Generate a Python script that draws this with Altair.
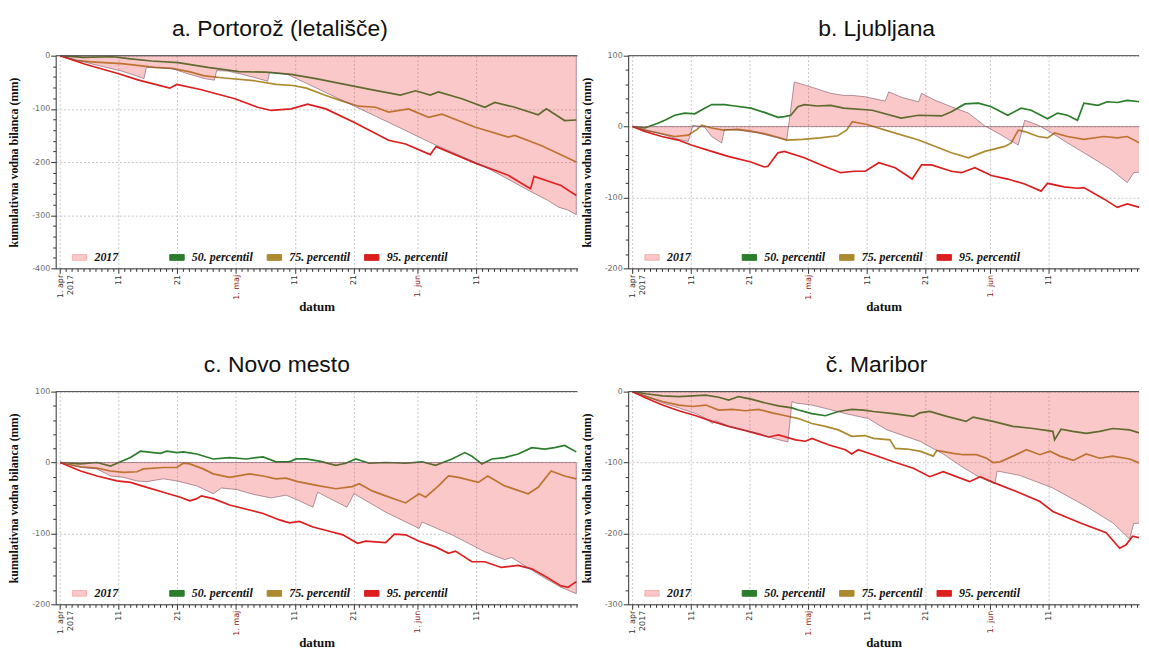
import altair as alt
import pandas as pd

SERIES = ["2017", "50. percentil", "75. percentil", "95. percentil"]
COLORS = ["rgba(238,58,58,0.28)", "#2b7d2b", "#ad8a30", "#dc1e1e"]

# x = day index counted from 1 April 2017 (0 = 1. apr)
MAJOR_DAYS = [0, 10, 20, 30, 40, 50, 61, 71]
TICK_LABELS = ["1. apr|2017", "11", "21", "1. maj", "11", "21", "1. jun", "11"]

# ---------------- a. Portorož (letališče)
A_2017_DAY = [0, 2.5, 4.9, 7.5, 10.5, 12.5, 14.3, 14.7, 17, 19, 21.5, 24.6, 26.3, 26.7, 28.6, 31, 33.1, 35.4, 35.7, 38.7, 42, 46, 50, 54, 58, 61, 64, 68, 71.9, 76, 79.8, 83.1, 85, 86.5, 88]
A_2017_VAL = [0, -7, -14, -21, -29, -36, -43, -22, -23, -24, -33, -43, -46, -28, -29, -35, -41, -48, -31, -35, -52, -73, -94, -115, -136, -152, -168, -187, -206, -230, -253, -272, -285, -290, -299]
A_P50_DAY = [0, 4, 9, 12, 15.6, 20.1, 25.2, 30.5, 35, 39.4, 43.6, 48.1, 52.6, 58, 60.6, 63.1, 64.5, 68.5, 72.4, 74.1, 77.5, 81.5, 82.9, 86, 88]
A_P50_VAL = [0, -3, -2, -6, -10, -13, -22, -30, -31, -35, -43, -53, -63, -74, -66, -74, -68, -81, -97, -88, -97, -111, -100, -122, -121]
A_P75_DAY = [0, 2.6, 6, 10.5, 16.2, 19, 22, 24.6, 28, 33, 36.8, 39.7, 42, 45.3, 48, 50.9, 53.8, 56, 59.4, 62.8, 65.1, 70.7, 76.4, 77.5, 82, 88]
A_P75_VAL = [0, -9, -12, -15, -22, -24, -30, -38, -42, -47, -54, -56, -61, -75, -85, -95, -97, -106, -100, -116, -110, -134, -153, -150, -169, -200]
A_P95_DAY = [0, 4.3, 10, 13.4, 18.7, 19.9, 24.1, 29.8, 33.7, 36, 39.4, 42.2, 45.3, 50.1, 56, 58.9, 63.1, 64.1, 71, 76.4, 80.2, 80.8, 85.4, 88]
A_P95_VAL = [0, -16, -34, -46, -61, -54, -64, -81, -97, -103, -100, -91, -100, -125, -159, -166, -186, -171, -203, -225, -250, -227, -244, -263]

# ---------------- b. Ljubljana
B_2017_DAY = [0, 2.1, 4.4, 7.8, 9.5, 10.3, 12.3, 13.5, 15.2, 15.7, 18, 21.4, 24.8, 26.3, 27.6, 30.4, 33.8, 36, 37.5, 39.7, 43.1, 43.7, 46, 48.8, 49.3, 51.6, 54.4, 57.3, 60.1, 62.9, 65.8, 66.9, 69.2, 71.5, 74, 77, 79, 81.5, 84.4, 85.5, 88]
B_2017_VAL = [0, -5, -9, -18, -21, 2, -1, -14, -23, -4, -5, -9, -16, -19, 63, 56, 47, 44, 44, 42, 36, 49, 41, 35, 47, 37, 28, 19, 1, -12, -26, 9, 2, -9, -22, -37, -47, -60, -79, -65, -63]
B_P50_DAY = [0, 2.1, 4.4, 5.5, 7.2, 8.9, 10.6, 12.3, 13.5, 15.7, 17.4, 20.2, 22.5, 24.8, 25.9, 27, 28.2, 29.3, 31.5, 33.8, 36, 40.9, 45.8, 48.8, 52.7, 54.4, 56.7, 59, 61.2, 64, 66.3, 68, 70.8, 72.5, 74.2, 75.9, 77, 79.4, 81, 82.7, 84.4, 86.5, 88]
B_P50_VAL = [0, -2, 5, 9, 16, 19, 18, 26, 31, 31, 29, 26, 20, 13, 14, 16, 28, 31, 29, 30, 26, 23, 12, 16, 15, 21, 32, 33, 28, 16, 26, 23, 11, 19, 16, 9, 33, 30, 35, 34, 37, 35, 35]
B_P75_DAY = [0, 2.1, 4.4, 7.2, 9.5, 11, 11.8, 13.5, 15.5, 18, 20, 22.5, 24.8, 26.3, 29, 32, 35, 36.5, 37.5, 40, 43.1, 48.8, 54.4, 57.3, 60.1, 63.5, 64.6, 65.8, 66.9, 69.2, 70.8, 72, 74.2, 77, 80.4, 82.7, 84.4, 86.5, 88]
B_P75_VAL = [0, -5, -9, -14, -12, -4, 2, -2, -5, -4, -6, -10, -15, -19, -18, -16, -13, -5, 7, 3, -5, -19, -37, -44, -35, -28, -23, -5, -7, -14, -16, -9, -14, -18, -14, -16, -14, -23, -24]
B_P95_DAY = [0, 2.1, 5, 7.8, 10, 13.5, 16.3, 20.2, 22.5, 23.1, 24.8, 25.9, 29.3, 32.7, 35.5, 37.8, 39.7, 42, 44.8, 47.7, 49.3, 51, 54.4, 56.1, 58.4, 61.2, 64, 66.9, 69.7, 70.8, 73.6, 75.9, 77, 80.4, 82.7, 84.4, 86.5, 88]
B_P95_VAL = [0, -7, -14, -19, -26, -35, -42, -50, -57, -56, -37, -35, -44, -56, -65, -63, -63, -51, -58, -74, -54, -54, -63, -65, -58, -69, -74, -81, -91, -80, -85, -87, -86, -102, -114, -109, -114, -116]

# ---------------- c. Novo mesto
C_2017_DAY = [0, 3.5, 6.3, 8.6, 10.8, 13.1, 14.8, 17.6, 19.9, 23.3, 26.1, 27.5, 30, 33, 36, 38.5, 40.5, 43.1, 43.9, 48.9, 50.1, 55.5, 61.2, 61.7, 66.8, 72.4, 75.8, 77, 79.3, 82.6, 85.4, 88]
C_2017_VAL = [0, -7, -9, -19, -21, -26, -27, -23, -26, -33, -44, -36, -38, -45, -50, -46, -53, -63, -42, -63, -44, -70, -93, -84, -102, -126, -137, -134, -146, -163, -176, -185]
C_P50_DAY = [0, 3.5, 6.3, 8.6, 10.3, 12, 13.7, 15.9, 17.1, 18.2, 19.9, 21, 23.3, 26.1, 28.9, 31.8, 33.4, 34.6, 36.8, 39.1, 40.2, 41.9, 44.2, 47, 48.7, 50.4, 52.7, 55.5, 58.9, 61.7, 64, 66.8, 69, 70.2, 71.9, 73.6, 75.8, 78.1, 80.4, 82.6, 84.3, 86, 88]
C_P50_VAL = [0, -2, 0, -5, 1, 7, 16, 14, 13, 16, 14, 15, 12, 5, 7, 5, 7, 8, 1, 1, 5, 5, 2, -4, -1, 5, -1, 0, -1, 1, -4, 5, 14, 9, -2, 5, 7, 12, 21, 19, 21, 24, 15]
C_P75_DAY = [0, 3.5, 6.3, 8.6, 10.8, 13.1, 14.2, 17.6, 19.9, 21, 22.1, 24.4, 26.1, 28.9, 32.3, 34.6, 36.8, 38.5, 40.5, 44.2, 47, 49.8, 51, 53.2, 55.5, 58.9, 61.2, 62.3, 64.5, 66.2, 67.9, 71.3, 72.9, 75.8, 79.8, 81.5, 83.7, 86, 88]
C_P75_VAL = [0, -6, -8, -12, -14, -13, -9, -7, -7, -1, -2, -9, -16, -21, -16, -19, -23, -22, -27, -33, -37, -34, -30, -40, -47, -57, -44, -49, -33, -19, -21, -28, -19, -33, -44, -35, -12, -19, -23]
C_P95_DAY = [0, 3.5, 6.3, 9.7, 12, 14.8, 17.6, 20.5, 22.1, 23.3, 24.1, 26.1, 28.9, 32.3, 34.6, 37.4, 39.1, 40.8, 43.1, 45.9, 48.2, 50.7, 52.1, 55.5, 57, 58.9, 61.2, 64, 66.2, 67.4, 70.2, 72.4, 75.2, 78.1, 80.4, 82.6, 85.4, 86.6, 88]
C_P95_VAL = [0, -12, -19, -26, -28, -35, -42, -49, -54, -51, -47, -51, -60, -67, -72, -81, -85, -83, -91, -97, -102, -114, -111, -113, -101, -102, -111, -119, -128, -125, -140, -140, -148, -145, -150, -160, -174, -176, -168]

# ---------------- č. Maribor
D_2017_DAY = [0, 2.3, 5.1, 7.9, 10.8, 12.5, 13.6, 14.2, 16.4, 19.3, 21.5, 23.2, 25, 26.5, 27.2, 27.8, 30.6, 34, 36.3, 40.2, 43.4, 49, 53, 56, 59, 61.8, 62.2, 66, 71.7, 77.4, 81.9, 84.8, 85.5, 88]
D_2017_VAL = [0, -6, -16, -23, -31, -38, -45, -41, -49, -55, -59, -64, -68, -71, -14, -16, -19, -26, -31, -38, -54, -70, -88, -105, -120, -130, -112, -118, -136, -162, -185, -208, -186, -185]
D_P50_DAY = [0, 2.3, 5.1, 7.9, 10.2, 12.5, 14.7, 16.4, 18.1, 20.4, 22.7, 24.9, 27.2, 28.3, 30.6, 32.9, 35.1, 37.4, 39.4, 41.1, 44.5, 47.9, 49, 50.7, 53.6, 56.9, 58.1, 61.5, 64.9, 68.3, 71.7, 72, 73.1, 75.1, 77.4, 79.7, 81.9, 84.8, 88]
D_P50_VAL = [0, -3, -6, -7, -6, -5, -8, -12, -7, -11, -16, -20, -23, -26, -31, -34, -28, -25, -26, -28, -31, -35, -30, -28, -35, -42, -36, -42, -49, -52, -56, -68, -53, -56, -59, -56, -52, -54, -62]
D_P75_DAY = [0, 2.3, 5.1, 7.9, 10.2, 12.5, 14.7, 17, 19.3, 21.5, 23.8, 26.1, 28.3, 30.6, 32.9, 35.1, 37.4, 39.7, 41.1, 43.9, 44.8, 46.8, 49, 51.3, 51.9, 54.7, 56.4, 58.7, 60.4, 61.5, 62.7, 64.9, 67.2, 69.5, 71.2, 72.9, 75.2, 77.4, 79.7, 81.9, 84.8, 88]
D_P75_VAL = [0, -7, -14, -19, -21, -19, -26, -25, -27, -25, -30, -34, -38, -45, -49, -54, -63, -62, -66, -68, -80, -81, -84, -91, -83, -87, -89, -89, -94, -100, -99, -91, -82, -89, -84, -91, -97, -88, -94, -91, -95, -106]
D_P95_DAY = [0, 2.3, 5.1, 7.9, 10.8, 13.6, 16.4, 19.3, 21.5, 23.2, 24.9, 27.8, 29.5, 30.6, 33.4, 36.3, 37.4, 38.5, 41.1, 44.5, 47.9, 50.7, 53, 57.5, 59.3, 61.5, 66.1, 69.5, 71.7, 76.3, 80.8, 83.1, 84.2, 85.3, 88]
D_P95_VAL = [0, -9, -19, -27, -34, -42, -49, -55, -60, -64, -61, -68, -70, -66, -75, -82, -88, -82, -89, -99, -108, -120, -113, -127, -120, -128, -143, -155, -169, -185, -199, -221, -216, -204, -209]


def long_frame(parts):
    rows = []
    for name, days, vals in parts:
        for d, v in zip(days, vals):
            rows.append({"day": d, "value": v, "series": name})
    return pd.DataFrame(rows)


MAJOR_TEST = "indexof(%s, datum.value) >= 0" % str(MAJOR_DAYS)
LABEL_EXPR = "indexof(%s, datum.value) >= 0 ? split(%s[indexof(%s, datum.value)], '|') : ''" % (
    str(MAJOR_DAYS), str(TICK_LABELS), str(MAJOR_DAYS))


def panel(title, dx, parts, ydom, width, xmax):
    df = long_frame(parts)
    xs = alt.Scale(domain=[-0.75, xmax], nice=False, zero=False)
    ys = alt.Scale(domain=ydom, nice=False, zero=False)
    cs = alt.Scale(domain=SERIES, range=COLORS)
    xaxis = alt.Axis(
        values=list(range(0, int(xmax) + 1)), tickCount=1000, title="datum", labelExpr=LABEL_EXPR,
        labelAngle=270, labelOverlap=False, labelBound=False, labelFlush=False,
        labelFont="DejaVu Sans", labelFontSize=8, labelPadding=1,
        labelColor={"condition": {"test": "datum.value == 30 || datum.value == 61", "value": "#8b1c1c"}, "value": "#333333"},
        tickSize={"condition": {"test": MAJOR_TEST, "value": 5}, "value": 3},
        gridOpacity={"condition": {"test": MAJOR_TEST, "value": 1}, "value": 0},
        minExtent=31, maxExtent=31, titlePadding=1,
        titleFont="Liberation Serif", titleFontSize=13, titleFontWeight="bold",
    )
    yaxis = alt.Axis(
        values=list(range(ydom[0], ydom[1] + 1, 20)), tickCount=1000, title="kumulativna vodna bilanca (mm)",
        labelExpr="datum.value % 100 == 0 ? '' + datum.value : ''", labelOverlap=False,
        labelFont="DejaVu Sans", labelFontSize=8, labelColor="#666666", labelPadding=1,
        tickSize={"condition": {"test": "datum.value % 100 == 0", "value": 5}, "value": 3},
        gridOpacity={"condition": {"test": "datum.value % 100 == 0", "value": 1}, "value": 0},
        minExtent=30, maxExtent=30, titlePadding=5,
        titleFont="Liberation Serif", titleFontSize=12, titleFontWeight="bold",
    )
    legend = alt.Legend(
        orient="none", legendX=16, legendY=195, direction="horizontal", columns=4,
        gridAlign="all", title=None, padding=0, columnPadding=11,
        symbolType="M-1,-0.4H1V0.4H-1Z", symbolSize=210,
        symbolStrokeColor="#555555", symbolStrokeWidth=1,
        labelFont="Liberation Serif", labelFontStyle="italic", labelFontWeight="bold",
        labelFontSize=12, labelColor="#111111", labelOffset=7,
    )
    lines = alt.Chart(df[df.series != "2017"]).mark_line(strokeWidth=1.7, clip=True).encode(
        x=alt.X("day:Q", scale=xs, axis=xaxis),
        y=alt.Y("value:Q", scale=ys, axis=yaxis),
        color=alt.Color("series:N", scale=cs, legend=legend),
    )
    area = alt.Chart(df[df.series == "2017"]).mark_area(
        stroke="rgba(110,70,90,0.55)", strokeWidth=1, clip=True
    ).encode(
        x=alt.X("day:Q", scale=xs),
        y=alt.Y("value:Q", scale=ys),
        y2=alt.datum(0),
        color=alt.Color("series:N", scale=cs, legend=legend),
    )
    top = alt.Chart(pd.DataFrame({"v": [ydom[1]]})).mark_rule(color="#444444", strokeWidth=1).encode(
        y=alt.Y("v:Q", scale=ys)
    )
    return alt.layer(lines, area, top).properties(
        width=width, height=214,
        title=alt.TitleParams(title, font="Liberation Sans", fontSize=23, fontWeight="normal",
                              color="#111111", anchor="middle", dx=dx, offset=11),
    )


pa = panel("a. Portorož (letališče)", -37,
           [("2017", A_2017_DAY, A_2017_VAL), ("50. percentil", A_P50_DAY, A_P50_VAL),
            ("75. percentil", A_P75_DAY, A_P75_VAL), ("95. percentil", A_P95_DAY, A_P95_VAL)],
           [-400, 0], 525, 88.2)
pb = panel("b. Ljubljana", -7,
           [("2017", B_2017_DAY, B_2017_VAL), ("50. percentil", B_P50_DAY, B_P50_VAL),
            ("75. percentil", B_P75_DAY, B_P75_VAL), ("95. percentil", B_P95_DAY, B_P95_VAL)],
           [-200, 100], 514, 86.4)
pc = panel("c. Novo mesto", -40,
           [("2017", C_2017_DAY, C_2017_VAL), ("50. percentil", C_P50_DAY, C_P50_VAL),
            ("75. percentil", C_P75_DAY, C_P75_VAL), ("95. percentil", C_P95_DAY, C_P95_VAL)],
           [-200, 100], 525, 88.2)
pd_ = panel("č. Maribor", -7,
            [("2017", D_2017_DAY, D_2017_VAL), ("50. percentil", D_P50_DAY, D_P50_VAL),
             ("75. percentil", D_P75_DAY, D_P75_VAL), ("95. percentil", D_P95_DAY, D_P95_VAL)],
            [-300, 0], 514, 86.4)

chart = alt.concat(
    pa, pb, pc, pd_, columns=2, spacing={"row": 124, "column": 51}, bounds="flush"
).resolve_scale(x="independent", y="independent", color="independent").properties(
    padding={"left": 0, "top": 8, "right": 0, "bottom": 0}
).configure_view(stroke=None).configure_axis(
    domainColor="#333333", tickColor="#333333", gridColor="#c8c8c8", gridDash=[2, 2],
    titleColor="#111111",
)

chart.save("out.html", embed_options={"renderer": "svg", "actions": False})
